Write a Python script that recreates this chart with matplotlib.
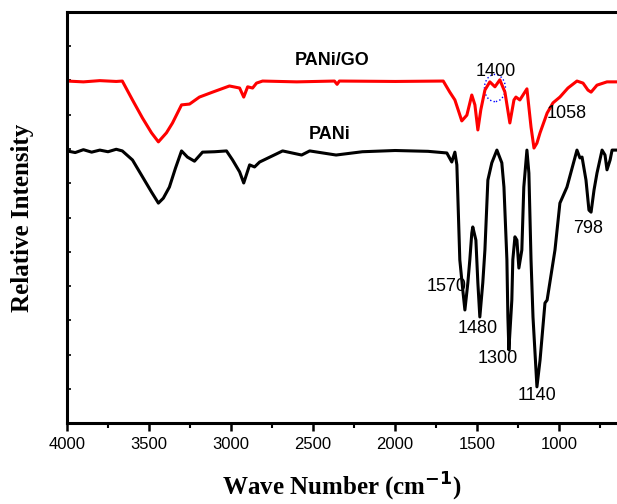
import matplotlib.pyplot as plt
from matplotlib.patches import Ellipse

# PANi/GO (red) trace
wn_go = [4000, 3900, 3800, 3700, 3663, 3601, 3540, 3485, 3443, 3394, 3357, 3302,
         3253, 3193, 3113, 3010, 2948, 2923, 2899, 2869, 2845, 2808, 2600, 2370,
         2354, 2340, 2000, 1707, 1667, 1636, 1612, 1594, 1563, 1533, 1514, 1496,
         1478, 1453, 1423, 1392, 1362, 1331, 1301, 1276, 1264, 1240, 1197, 1172,
         1154, 1136, 1117, 1074, 1038, 996, 947, 892, 855, 825, 806, 770, 709, 648]
int_go = [83.2, 83.0, 83.3, 83.1, 83.2, 78.6, 74.2, 70.6, 68.4, 70.6, 73.0, 77.4,
          77.6, 79.3, 80.5, 82.0, 81.5, 79.3, 81.8, 81.5, 82.7, 83.2, 83.0, 83.2,
          82.4, 83.2, 83.1, 83.2, 80.5, 78.6, 75.7, 73.5, 74.9, 79.8, 77.4, 71.3,
          76.2, 81.0, 83.0, 81.8, 83.5, 80.5, 73.0, 78.6, 79.3, 78.6, 81.3, 72.0,
          66.9, 68.1, 70.6, 75.4, 77.9, 79.3, 81.5, 83.2, 82.7, 81.0, 80.5, 82.2,
          83.0, 83.0]

# PANi (black) trace
wn_pani = [4000, 3950, 3900, 3850, 3800, 3750, 3700, 3663, 3601, 3540, 3485, 3443,
           3413, 3376, 3339, 3302, 3266, 3223, 3174, 3100, 3028, 2991, 2948, 2923,
           2887, 2857, 2826, 2722, 2686, 2570, 2521, 2360, 2200, 2000, 1800, 1685,
           1655, 1636, 1624, 1606, 1588, 1575, 1557, 1545, 1533, 1527, 1508, 1496,
           1484, 1466, 1453, 1435, 1411, 1380, 1350, 1337, 1319, 1313, 1307, 1289,
           1283, 1270, 1258, 1246, 1228, 1216, 1197, 1185, 1172, 1160, 1136, 1117,
           1087, 1074, 1026, 996, 953, 892, 874, 861, 837, 819, 806, 788, 770, 739,
           721, 709, 690, 678, 648]
int_pani = [66.2, 65.8, 66.5, 65.9, 66.4, 66.0, 66.6, 66.2, 64.0, 59.9, 56.2, 53.5,
            54.7, 57.4, 62.0, 66.2, 64.7, 63.7, 65.9, 66.0, 66.2, 64.0, 61.1, 58.4,
            62.8, 62.3, 63.5, 65.5, 66.2, 65.2, 66.2, 65.2, 66.0, 66.3, 66.1, 65.7,
            63.5, 65.9, 62.8, 39.7, 32.4, 27.5, 34.1, 39.7, 46.2, 47.7, 44.5, 34.1,
            25.8, 34.1, 42.1, 59.1, 63.3, 66.4, 63.3, 57.4, 39.7, 25.8, 17.8, 29.9,
            39.7, 45.3, 44.5, 37.7, 42.1, 57.4, 66.4, 60.8, 39.7, 25.8, 8.8, 15.3,
            29.2, 29.9, 42.1, 53.5, 57.4, 66.4, 64.5, 64.7, 59.1, 51.8, 51.3, 56.7,
            60.8, 66.4, 65.2, 61.6, 64.0, 66.4, 66.4]

# peak labels: text, x, y
peak_labels = ["1400", "1058", "798", "1570", "1480", "1300", "1140"]
peak_x = [1386, 953, 825, 1685, 1496, 1374, 1136]
peak_y = [85.6, 75.4, 47.4, 33.1, 22.9, 15.8, 6.8]

plt.rcParams['font.family'] = ['Liberation Sans', 'DejaVu Sans']

fig = plt.figure(figsize=(6.17, 5.04), dpi=100)
ax = fig.add_axes([0.1086, 0.1607, 0.8914, 0.8155])

ax.plot(wn_go, int_go, color='red', lw=2.2)
ax.plot(wn_pani, int_pani, color='black', lw=2.2)

ax.set_xlim(4000, 648)
ax.set_ylim(0, 100)

ax.text(2387, 88.3, 'PANi/GO', fontsize=13, fontweight='bold', ha='center', va='center')
ax.text(2399, 70.1, 'PANi', fontsize=13, fontweight='bold', ha='center', va='center')

for lab, x, y in zip(peak_labels, peak_x, peak_y):
    ax.text(x, y, lab, fontsize=13, ha='center', va='center')

ax.add_patch(Ellipse((1392, 81.5), 128, 6.6, fill=False, ec='blue', ls=':', lw=1.0))

ax.set_xticks([4000, 3500, 3000, 2500, 2000, 1500, 1000])
ax.set_xticks([3750, 3250, 2750, 2250, 1750, 1250, 750], minor=True)
ax.set_yticks([i * 100 / 12 for i in range(13)])
ax.set_yticklabels([])
ax.tick_params(axis='x', which='major', direction='out', length=6, width=1.8, labelsize=12, pad=4)
ax.tick_params(axis='x', which='minor', direction='out', length=3.5, width=1.5)
ax.tick_params(axis='y', direction='in', length=3, width=1.2)

for s in ['left', 'bottom', 'top']:
    ax.spines[s].set_linewidth(2.2)
ax.spines['right'].set_visible(False)

ax.set_xlabel('Wave Number (cm$^{\\mathbf{-1}}$)', fontsize=18, fontweight='bold',
              family='Liberation Serif', labelpad=14)
ax.set_ylabel('Relative Intensity', fontsize=18, fontweight='bold',
              family='Liberation Serif', labelpad=20)

fig.savefig('out.png', dpi=100)
